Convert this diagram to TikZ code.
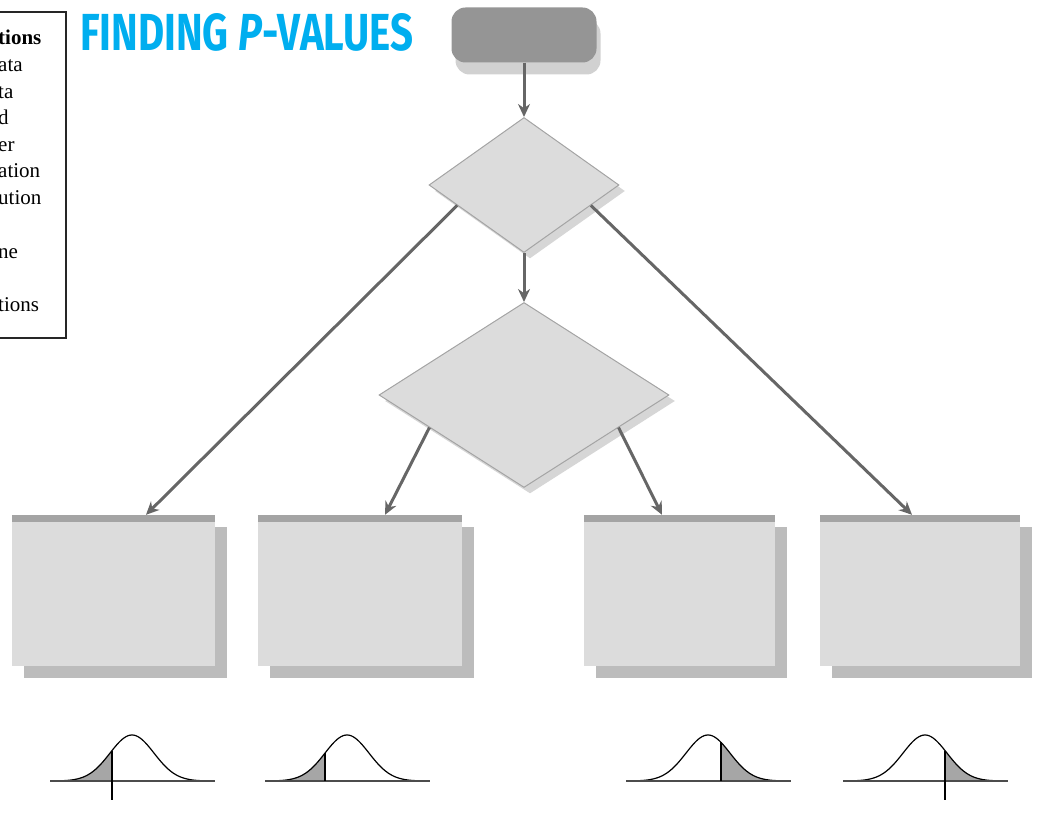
\documentclass[tikz,border=0pt]{standalone}
\usepackage{fontspec}
\setmainfont{Liberation Serif}
\newfontfamily\titlefont{Fira Sans}
\usepackage{xcolor}
\usetikzlibrary{shapes.geometric, calc, arrows.meta, shadows}
\definecolor{titlecyan}{HTML}{00AEEF}
\definecolor{boxfill}{HTML}{DCDCDC}
\definecolor{boxedge}{HTML}{A4A4A4}
\definecolor{shadowgray}{HTML}{BCBCBC}
\definecolor{startfill}{HTML}{959595}

\begin{document}
\begin{tikzpicture}[x=1pt, y=-1pt,
    declare function={bell(\t)=46*exp(-0.5*(\t/22)*(\t/22));},
    flowline/.style={draw=black!60, line width=3pt, -{Stealth[length=13pt, width=12pt]}},
    boxshadow/.style={drop shadow={shadow xshift=12pt, shadow yshift=-12pt, fill=shadowgray, opacity=1}},
    startbox/.style={rectangle, rounded corners=14pt, fill=startfill, minimum width=145pt, minimum height=55pt, inner sep=0pt,
        drop shadow={shadow xshift=4pt, shadow yshift=-12pt, fill=black!18, opacity=1}},
    decision/.style={diamond, fill=boxfill, draw=boxedge, line width=1pt, inner sep=0pt,
        drop shadow={shadow xshift=6pt, shadow yshift=-6pt, fill=black!16, opacity=1}},
    resultbox/.style={rectangle, fill=boxfill, minimum height=151pt, inner sep=0pt, boxshadow},
    legendtext/.style={anchor=base west, inner sep=0pt, font=\fontsize{21}{26}\selectfont},
    axisline/.style={black!70, line width=1.6pt},
    bellline/.style={black, line width=1.2pt},
    cutline/.style={black, line width=1.6pt}]
    \useasboundingbox (0,0) rectangle (1048,834);
    \clip (0,0) rectangle (1048,834);

    % Titulo e quadro lateral
    \node[anchor=north west, inner sep=0pt, text=titlecyan] (title) at (80,13)
        {\resizebox{333pt}{37pt}{\titlefont\bfseries FINDING \textit{P}-VALUES}};
    \draw[black!85, line width=2.5pt] (-60,12) rectangle (66,338);
    \node[legendtext, font=\fontsize{21}{26}\selectfont\bfseries] (leg1) at (-2,45) {tions};
    \foreach \txt/\yy [count=\i from 2] in {ata/72, ta/99, d/125, er/152, ation/178, ution/205, ne/258, tions/311}
        \node[legendtext] (leg\i) at (-2,\yy) {\txt};

    % Formas do fluxograma
    \node[startbox] (start) at (524,35) {};
    \node[decision, minimum width=190pt, minimum height=135pt] (testtype) at (524,185) {};
    \node[decision, minimum width=290pt, minimum height=185pt] (whichside) at (524,395) {};
    \node[resultbox, minimum width=203pt] (lefttail) at (113.5,590.5) {};
    \node[resultbox, minimum width=204pt] (twiceleft) at (360,590.5) {};
    \node[resultbox, minimum width=191pt] (twiceright) at (679.5,590.5) {};
    \node[resultbox, minimum width=200pt] (righttail) at (920,590.5) {};
    \foreach \b in {lefttail, twiceleft, twiceright, righttail}
        \draw[boxedge, line width=7pt] ([yshift=-3.5pt]\b.north west) -- ([yshift=-3.5pt]\b.north east);

    % Setas
    \draw[flowline] (start) -- (testtype);
    \draw[flowline] (testtype) -- (whichside);
    \draw[flowline] ($(testtype.west)!0.3!(testtype.south)$) -- (lefttail.north -| 146,0);
    \draw[flowline] ($(testtype.east)!0.3!(testtype.south)$) -- (righttail.north -| 912,0);
    \draw[flowline] ($(whichside.west)!0.35!(whichside.south)$) -- (twiceleft.north -| 385,0);
    \draw[flowline] ($(whichside.east)!0.35!(whichside.south)$) -- (twiceright.north -| 662,0);

    % Curvas normais com a cauda sombreada
    \foreach \cx/\from/\to/\cut/\low in {132/-70/-20/112/800, 347/-70/-22/325/781, 708/13/70/721/781, 925/20/70/945/800} {
        \fill[black!35] (\cx+\from,781) -- plot[domain=\from:\to, samples=30] ({\cx+\x},{781-bell(\x)}) -- (\cx+\to,781) -- cycle;
        \draw[bellline] plot[domain=-70:70, samples=80] ({\cx+\x},{781-bell(\x)});
        \draw[axisline] (\cx-82,781) -- (\cx+83,781);
        \draw[cutline] (\cut,{781-bell(\cut-\cx)}) -- (\cut,\low);
    }
\end{tikzpicture}
\end{document}
